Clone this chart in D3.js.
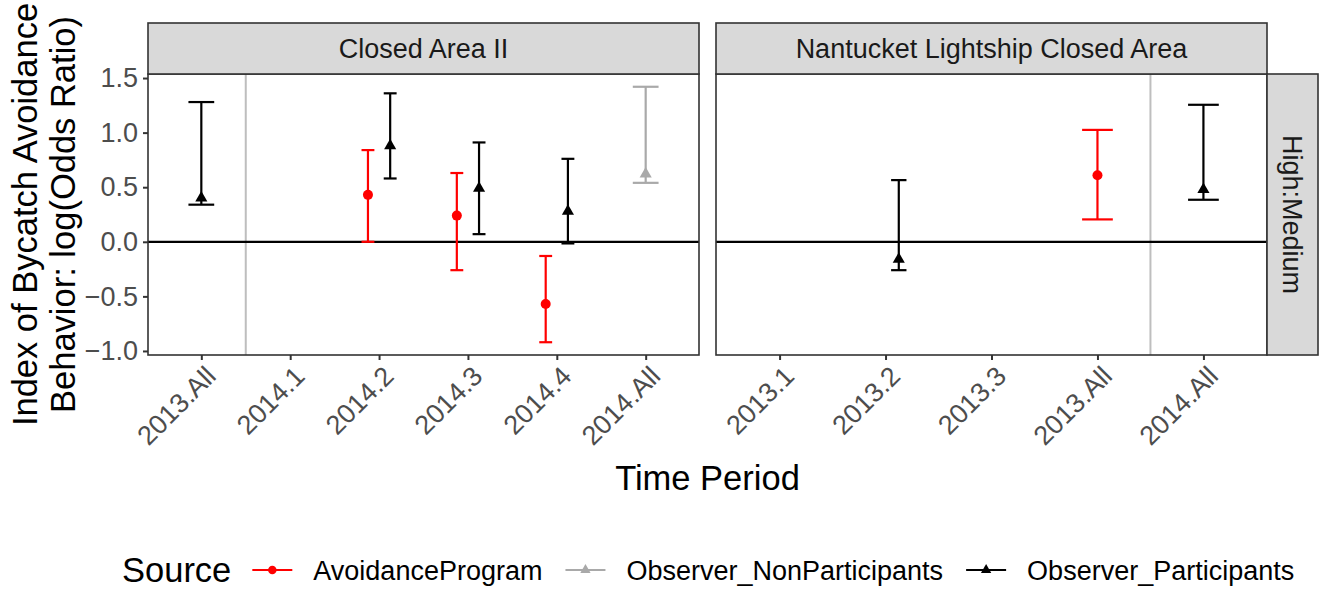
<!DOCTYPE html>
<html>
<head>
<meta charset="utf-8">
<script src="https://cdn.jsdelivr.net/npm/d3@7"></script>
<style>
  body { margin: 0; background: #fff; }
  text { font-family: "Liberation Sans", Arial, sans-serif; }
</style>
</head>
<body>
<div id="chart"></div>
<script>
// facet labels and x categories
const panelNames = ["Closed Area II", "Nantucket Lightship Closed Area"]
const periodsCA2 = ["2013.All", "2014.1", "2014.2", "2014.3", "2014.4", "2014.All"]
const periodsNL = ["2013.1", "2013.2", "2013.3", "2013.All", "2014.All"]
const rowLabel = "High:Medium"
const yTicks = [-1.0, -0.5, 0.0, 0.5, 1.0, 1.5]
const sources = ["AvoidanceProgram", "Observer_NonParticipants", "Observer_Participants"]
// period after which the year break line is drawn, per panel
const breakAfter = ["2013.All", "2013.All"]

// one entry per estimate (null = missing, still takes a dodge slot)
const recPanel = [0, 0, 0, 0, 0, 0, 0, 0, 1, 1, 1, 1]
const recPeriod = ["2013.All", "2014.2", "2014.2", "2014.3", "2014.3", "2014.4", "2014.4", "2014.All",
                   "2013.2", "2013.2", "2013.All", "2014.All"]
const recSource = ["Observer_Participants", "AvoidanceProgram", "Observer_Participants",
                   "AvoidanceProgram", "Observer_Participants", "AvoidanceProgram", "Observer_Participants",
                   "Observer_NonParticipants", "AvoidanceProgram", "Observer_Participants",
                   "AvoidanceProgram", "Observer_Participants"]
const recEst  = [0.40, 0.43, 0.88, 0.24, 0.49, -0.57, 0.28, 0.62, null, -0.16, 0.61, 0.48]
const recLow  = [0.34, 0.00, 0.58, -0.26, 0.07, -0.92, -0.015, 0.54, null, -0.26, 0.205, 0.385]
const recHigh = [1.28, 0.84, 1.36, 0.63, 0.91, -0.13, 0.76, 1.42, null, 0.565, 1.025, 1.255]

const colors = {"AvoidanceProgram": "#FF0000", "Observer_NonParticipants": "#A9A9A9", "Observer_Participants": "#000000"}
const shapes = {"AvoidanceProgram": "circle", "Observer_NonParticipants": "triangle", "Observer_Participants": "triangle"}

const W = 1320, H = 589
const panelBox = [{x0: 148, x1: 699}, {x0: 716, x1: 1267}]
const plotTop = 74, plotBottom = 355, stripTop = 23, stripRight = 1318
const dodgeWidth = 0.5, capWidth = 0.29
const smallFont = 27, titleFont = 34.5

const data = recPanel.map((p, i) => ({
    panel: p, period: recPeriod[i], source: recSource[i],
    est: recEst[i], lo: recLow[i], hi: recHigh[i]
}))
// dodge slots inside each panel/period
data.forEach(d => {
    const grp = data.filter(e => e.panel === d.panel && e.period === d.period)
    d.n = grp.length
    d.k = grp.indexOf(d)
})

const valid = data.filter(d => d.est !== null)
const yMin = d3.min(valid, d => d.lo), yMax = d3.max(valid, d => d.hi)
const pad = (yMax - yMin) * 0.05
const y = d3.scaleLinear().domain([yMin - pad, yMax + pad]).range([plotBottom, plotTop])

const svg = d3.select("#chart").append("svg")
    .attr("width", W).attr("height", H)

function trianglePath(cx, cy, r) {
    const xc = r * 0.8660, yc = r / 2
    return `M${cx},${cy - r}L${cx + xc},${cy + yc}L${cx - xc},${cy + yc}Z`
}

function drawPoint(g, shape, cx, cy, color, scale) {
    if (shape === "circle") {
        g.append("circle").attr("cx", cx).attr("cy", cy).attr("r", 5 * scale).attr("fill", color)
    } else {
        g.append("path").attr("d", trianglePath(cx, cy, 7 * scale)).attr("fill", color)
    }
}

[periodsCA2, periodsNL].forEach((cats, p) => {
    const box = panelBox[p]
    const x = d3.scalePoint().domain(cats).range([box.x0, box.x1]).padding(0.6)
    const step = x.step()
    const g = svg.append("g")

    g.append("rect")
        .attr("x", box.x0).attr("y", plotTop)
        .attr("width", box.x1 - box.x0).attr("height", plotBottom - plotTop)
        .attr("fill", "#fff")

    // year break
    const bx = x(breakAfter[p]) + step / 2
    g.append("line")
        .attr("x1", bx).attr("x2", bx).attr("y1", plotTop).attr("y2", plotBottom)
        .attr("stroke", "#BEBEBE").attr("stroke-width", 2)

    // zero reference
    g.append("line")
        .attr("x1", box.x0).attr("x2", box.x1).attr("y1", y(0)).attr("y2", y(0))
        .attr("stroke", "#000").attr("stroke-width", 2.2)

    valid.filter(d => d.panel === p).forEach(d => {
        const w = dodgeWidth / d.n
        const cx = x(d.period) + (d.n > 1 ? (-dodgeWidth / 2 + w * (d.k + 0.5)) * step : 0)
        const half = capWidth / d.n / 2 * step
        const c = colors[d.source]
        const eb = g.append("g").attr("stroke", c).attr("stroke-width", 2.2).attr("fill", "none")
        eb.append("line").attr("x1", cx).attr("x2", cx).attr("y1", y(d.lo)).attr("y2", y(d.hi))
        eb.append("line").attr("x1", cx - half).attr("x2", cx + half).attr("y1", y(d.lo)).attr("y2", y(d.lo))
        eb.append("line").attr("x1", cx - half).attr("x2", cx + half).attr("y1", y(d.hi)).attr("y2", y(d.hi))
        drawPoint(g, shapes[d.source], cx, y(d.est), c, 1)
    })

    g.append("rect")
        .attr("x", box.x0).attr("y", plotTop)
        .attr("width", box.x1 - box.x0).attr("height", plotBottom - plotTop)
        .attr("fill", "none").attr("stroke", "#333").attr("stroke-width", 1.6)

    // top strip
    g.append("rect")
        .attr("x", box.x0).attr("y", stripTop)
        .attr("width", box.x1 - box.x0).attr("height", plotTop - stripTop)
        .attr("fill", "#D9D9D9").attr("stroke", "#333").attr("stroke-width", 1.6)
    g.append("text")
        .attr("x", (box.x0 + box.x1) / 2).attr("y", (stripTop + plotTop) / 2)
        .attr("dy", "0.36em").attr("text-anchor", "middle")
        .attr("font-size", smallFont).attr("fill", "#1A1A1A")
        .text(panelNames[p])

    // x axis
    const gx = g.append("g")
        .attr("transform", `translate(0,${plotBottom})`)
        .call(d3.axisBottom(x).tickSize(5).tickSizeOuter(0))
    gx.attr("font-family", null).attr("font-size", null)
    gx.select(".domain").remove()
    gx.selectAll(".tick line").attr("stroke", "#333").attr("stroke-width", 2)
    gx.selectAll(".tick text")
        .attr("y", 0).attr("dy", "0.72em")
        .attr("transform", "translate(2,9) rotate(-45)")
        .attr("text-anchor", "end")
        .attr("font-size", smallFont).attr("fill", "#4D4D4D")
})

// y axis on the left panel
const gy = svg.append("g")
    .attr("transform", `translate(${panelBox[0].x0},0)`)
    .call(d3.axisLeft(y).tickValues(yTicks).tickFormat(d3.format(".1f")).tickSize(5).tickSizeOuter(0))
gy.attr("font-family", null).attr("font-size", null)
gy.select(".domain").remove()
gy.selectAll(".tick line").attr("stroke", "#333").attr("stroke-width", 2)
gy.selectAll(".tick text")
    .attr("x", -10).attr("font-size", smallFont).attr("fill", "#4D4D4D")

// right strip
svg.append("rect")
    .attr("x", panelBox[1].x1).attr("y", plotTop)
    .attr("width", stripRight - panelBox[1].x1).attr("height", plotBottom - plotTop)
    .attr("fill", "#D9D9D9").attr("stroke", "#333").attr("stroke-width", 1.6)
svg.append("text")
    .attr("transform", `translate(${(panelBox[1].x1 + stripRight) / 2},${(plotTop + plotBottom) / 2}) rotate(90)`)
    .attr("dy", "0.36em").attr("text-anchor", "middle")
    .attr("font-size", smallFont).attr("fill", "#1A1A1A")
    .text(rowLabel)

// axis titles
svg.append("text")
    .attr("x", (panelBox[0].x0 + panelBox[1].x1) / 2).attr("y", 490)
    .attr("text-anchor", "middle").attr("font-size", titleFont)
    .text("Time Period")
const yt = svg.append("text")
    .attr("transform", `translate(0,${(plotTop + plotBottom) / 2}) rotate(-90)`)
    .attr("text-anchor", "middle").attr("font-size", titleFont)
yt.append("tspan").attr("x", 0).attr("y", 37).text("Index of Bycatch Avoidance")
yt.append("tspan").attr("x", 0).attr("y", 75).text("Behavior: log(Odds Ratio)")

// legend
const leg = svg.append("g")
const legY = 570
const lt = leg.append("text").attr("x", 122).attr("y", legY).attr("dy", "0.36em")
    .attr("font-size", titleFont).text("Source")
let lx = 122 + lt.node().getComputedTextLength() + 21
sources.forEach(s => {
    leg.append("line").attr("x1", lx).attr("x2", lx + 40).attr("y1", legY).attr("y2", legY)
        .attr("stroke", colors[s]).attr("stroke-width", 2.2)
    drawPoint(leg, shapes[s], lx + 20, legY, colors[s], 0.85)
    const t = leg.append("text").attr("x", lx + 61).attr("y", legY).attr("dy", "0.36em")
        .attr("font-size", smallFont).text(s)
    lx += 61 + t.node().getComputedTextLength() + 23
})
</script>
</body>
</html>
